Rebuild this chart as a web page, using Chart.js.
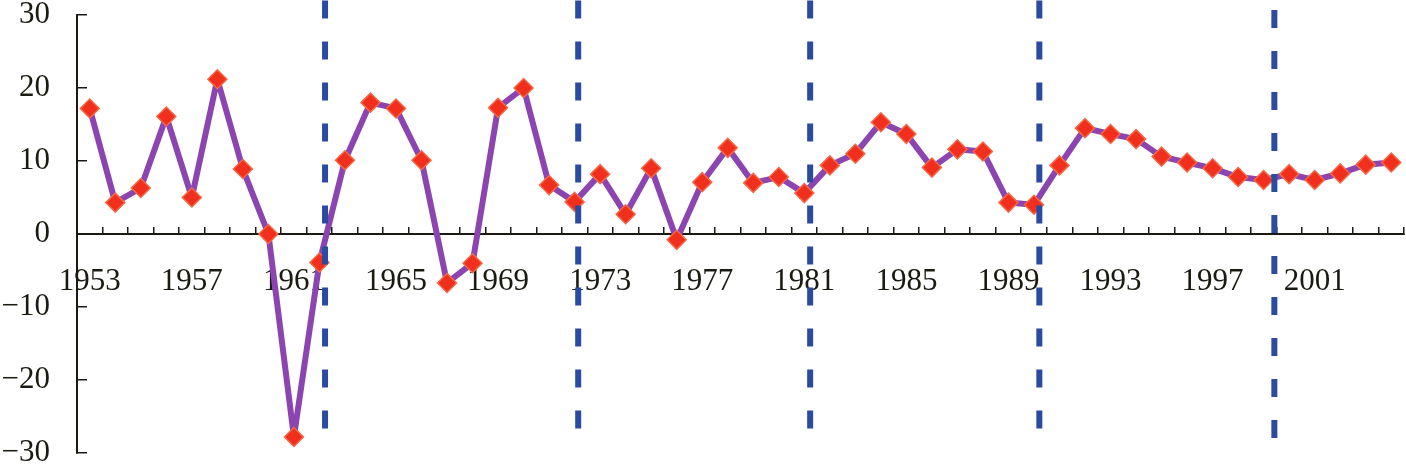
<!DOCTYPE html>
<html>
<head>
<meta charset="utf-8">
<script src="https://cdn.jsdelivr.net/npm/chart.js@4/dist/chart.umd.min.js"></script>
<style>
    html, body { margin: 0; padding: 0; background: #ffffff; }
    #wrap { width: 1406px; height: 465px; position: relative; }
</style>
</head>
<body>
<div id="wrap"><canvas id="chart-growth"></canvas></div>
<script>
// years on the category axis
const years = [
    '1953', '1954', '1955', '1956', '1957', '1958', '1959', '1960', '1961', '1962',
    '1963', '1964', '1965', '1966', '1967', '1968', '1969', '1970', '1971', '1972',
    '1973', '1974', '1975', '1976', '1977', '1978', '1979', '1980', '1981', '1982',
    '1983', '1984', '1985', '1986', '1987', '1988', '1989', '1990', '1991', '1992',
    '1993', '1994', '1995', '1996', '1997', '1998', '1999', '2000', '2001', '2002',
    '2003', '2004'
];

// growth rate (%) per year
const growth = [
    17.2, 4.3, 6.3, 16.1, 5.0, 21.2, 8.9, 0.0, -27.8, -3.9,
    10.1, 18.0, 17.2, 10.1, -6.7, -4.0, 17.3, 20.0, 6.7, 4.4,
    8.2, 2.7, 9.0, -0.8, 7.1, 11.8, 7.0, 7.8, 5.6, 9.4,
    11.0, 15.3, 13.7, 9.1, 11.6, 11.3, 4.3, 4.0, 9.4, 14.5,
    13.7, 13.0, 10.6, 9.8, 9.0, 7.8, 7.4, 8.2, 7.4, 8.3,
    9.5, 9.8
];

// period boundaries (dashed lines), in fractional years, with their top and bottom values
const breakYears = [1962.22, 1972.14, 1981.23, 1990.21, 1999.42];
const breakTops = [32.0, 32.0, 32.0, 32.0, 30.7];
const breakBottoms = [-27.3, -27.3, -27.0, -27.5, -28.5];

const yTicks = [-30, -20, -10, 0, 10, 20, 30];
const labelEvery = 4;

const axisColor = '#1a1a12';
const font = { family: "'Liberation Serif', 'Times New Roman', serif", size: 31 };

const breakDatasets = breakYears.map((yr, i) => ({
    type: 'line',
    xAxisID: 'xl',
    data: [{ x: yr, y: breakTops[i] }, { x: yr, y: breakBottoms[i] }],
    borderColor: '#2b4ba0',
    borderWidth: 6,
    borderDash: [18, 23],
    borderCapStyle: 'butt',
    pointRadius: 0,
    clip: false,
    order: 0
}));

const canvas = document.getElementById('chart-growth');
const ctx = canvas.getContext('2d');

new Chart(ctx, {
    type: 'line',
    data: {
        labels: years,
        datasets: [
            ...breakDatasets,
            {
                label: 'growth',
                xAxisID: 'x',
                data: growth,
                borderColor: '#8c45b0',
                borderWidth: 6,
                borderJoinStyle: 'round',
                tension: 0,
                pointStyle: 'rectRot',
                pointRadius: 9.5,
                pointBackgroundColor: '#f0301c',
                pointBorderColor: '#f46848',
                pointBorderWidth: 1.5,
                order: 1
            }
        ]
    },
    options: {
        responsive: true,
        maintainAspectRatio: false,
        animation: false,
        layout: {
            autoPadding: false,
            padding: { top: 15, bottom: 12, left: 0, right: 2 }
        },
        plugins: {
            legend: { display: false },
            tooltip: { enabled: false }
        },
        scales: {
            x: {
                type: 'category',
                position: { y: 0 },
                offset: true,
                border: { display: true, color: axisColor, width: 2 },
                grid: {
                    offset: true,
                    drawOnChartArea: false,
                    drawTicks: true,
                    tickLength: -8,
                    color: axisColor,
                    lineWidth: 1.5
                },
                ticks: {
                    autoSkip: false,
                    maxRotation: 0,
                    padding: 37,
                    color: axisColor,
                    font: font,
                    callback: function(value, index) {
                        return index % labelEvery === 0 ? this.getLabelForValue(value) : '';
                    }
                },
                afterFit: function(scale) {
                    // keep the axis from reserving side padding
                    scale.paddingLeft = 0;
                    scale.paddingRight = 0;
                }
            },
            xl: {
                type: 'linear',
                display: false,
                min: 1952.5,
                max: 2004.5
            },
            y: {
                min: -30,
                max: 30,
                position: 'left',
                border: { display: true, color: axisColor, width: 2 },
                grid: {
                    drawOnChartArea: false,
                    drawTicks: true,
                    tickLength: -10,
                    color: axisColor,
                    lineWidth: 1.5
                },
                afterBuildTicks: function(scale) {
                    scale.ticks = yTicks.map(v => ({ value: v }));
                },
                ticks: {
                    padding: 37,
                    color: axisColor,
                    font: font,
                    callback: function(value) {
                        return value < 0 ? '\u2212' + Math.abs(value) : String(value);
                    }
                },
                afterFit: function(scale) {
                    scale.width = 77;
                    scale.paddingTop = 0;
                    scale.paddingBottom = 0;
                }
            }
        }
    }
});
</script>
</body>
</html>
